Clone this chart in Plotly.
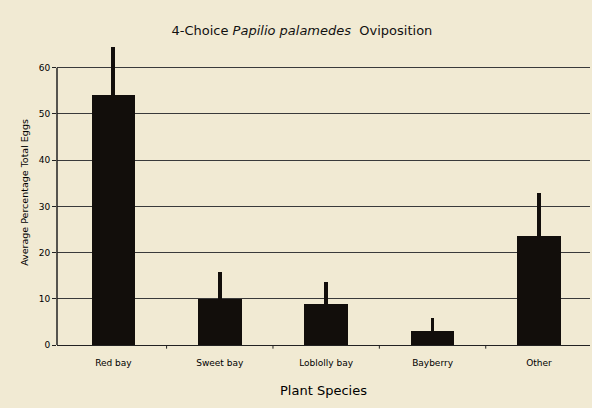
import plotly.graph_objects as go

categories = ["Red bay", "Sweet bay", "Loblolly bay", "Bayberry", "Other"]
values = [54.1, 10.0, 8.9, 3.0, 23.6]
err_plus = [10.4, 5.8, 4.7, 2.8, 9.3]
y_ticks = [0, 10, 20, 30, 40, 50, 60]

bg = "#f1ead3"
bar_col = "#120e0b"
font = "DejaVu Sans"

fig = go.Figure()
fig.add_trace(go.Bar(
    x=list(range(len(categories))), y=values, width=0.41,
    marker=dict(color=bar_col, line=dict(width=0)),
    error_y=dict(type="data", symmetric=False, array=err_plus,
                 arrayminus=[0] * len(values), color=bar_col,
                 thickness=3.8, width=0),
))

fig.update_layout(
    width=592, height=408,
    paper_bgcolor=bg, plot_bgcolor=bg,
    margin=dict(l=57, r=2, t=40, b=63),
    showlegend=False,
    title=dict(text="4-Choice <i>Papilio palamedes</i>  Oviposition",
               x=0.51, xanchor="center", y=0.925, yanchor="middle",
               font=dict(family=font, size=13, color="#111")),
    font=dict(family=font, color="#111"),
    bargap=0,
)
fig.update_xaxes(
    range=[-0.53, 4.48], tickmode="array",
    tickvals=list(range(len(categories))), ticktext=categories,
    tickfont=dict(size=9, color="#000"), ticks="outside", ticklen=9, tickcolor=bg,
    showgrid=False, zeroline=False,
    showline=True, linecolor="#222", linewidth=1,
    title=dict(text="Plant Species", font=dict(size=13, color="#000"), standoff=19),
)
fig.update_yaxes(
    range=[0, 66], tickmode="array", tickvals=y_ticks,
    tickfont=dict(size=9, color="#000"), ticks="outside", ticklen=4, tickcolor="#222",
    showgrid=True, gridcolor="#3a3a3a", gridwidth=0.8, zeroline=False,
    showline=False,
    title=dict(text="Average Percentage Total Eggs", font=dict(size=9.5, color="#000"), standoff=8),
)
# y-axis line spanning 0-60 only
fig.add_shape(type="line", xref="paper", yref="y", x0=0, x1=0,
              y0=y_ticks[0], y1=y_ticks[-1], line=dict(color="#222", width=1.5))
# category separator ticks on x axis
for k in range(1, len(categories)):
    fig.add_shape(type="line", xref="x", yref="paper", x0=k - 0.5, x1=k - 0.5,
                  y0=0, y1=-0.012, line=dict(color="#222", width=1))

fig.write_html("out.html", config={"displayModeBar": False},
               post_script="document.body.style.margin='0';document.body.style.overflow='hidden';")
